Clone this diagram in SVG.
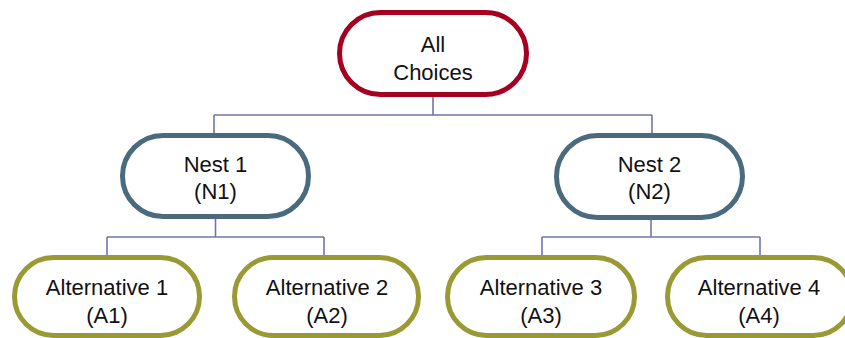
<svg xmlns="http://www.w3.org/2000/svg" width="845" height="338" viewBox="0 0 845 338">
<style>
.n{fill:#fff;stroke-width:5}
.top{stroke:#A50021}
.nest{stroke:#4A6A7E}
.alt{stroke:#9A9A34}
text{font-family:"Liberation Sans",Arial,sans-serif;font-size:22px;fill:#111;text-anchor:middle}
#connectors path{fill:none;stroke:#7474AC;stroke-width:1.6}
</style>
<rect width="845" height="338" fill="#fff"/>
<g id="connectors">
<path d="M433 97V115M214 115H652M214 115V133M652 115V133"/>
<path d="M215.5 219V237M107 237H324M107 237V255M324 237V255"/>
<path d="M651 220V237M542 237H760M542 237V255M760 237V255"/>
</g>
<g id="all">
<rect class="n top" x="339.5" y="12.5" width="187" height="82" rx="41"/>
<text x="433" y="52">All</text>
<text x="433" y="80">Choices</text>
</g>
<g id="nest1">
<rect class="n nest" x="122.5" y="135.5" width="186" height="81" rx="40.5"/>
<text x="215.5" y="172">Nest 1</text>
<text x="215.5" y="199">(N1)</text>
</g>
<g id="nest2">
<rect class="n nest" x="556.5" y="135.5" width="186" height="82" rx="41"/>
<text x="649.5" y="172">Nest 2</text>
<text x="649.5" y="199">(N2)</text>
</g>
<g id="alt1">
<rect class="n alt" x="14.5" y="257.5" width="185" height="78" rx="39"/>
<text x="107" y="295">Alternative 1</text>
<text x="107" y="323">(A1)</text>
</g>
<g id="alt2">
<rect class="n alt" x="234.5" y="257.5" width="184" height="78" rx="39"/>
<text x="327" y="295">Alternative 2</text>
<text x="327" y="323">(A2)</text>
</g>
<g id="alt3">
<rect class="n alt" x="447.5" y="257.5" width="187" height="78" rx="39"/>
<text x="541" y="295">Alternative 3</text>
<text x="541" y="323">(A3)</text>
</g>
<g id="alt4">
<rect class="n alt" x="667.5" y="257.5" width="185" height="78" rx="39"/>
<text x="759" y="295">Alternative 4</text>
<text x="759" y="323">(A4)</text>
</g>
</svg>
